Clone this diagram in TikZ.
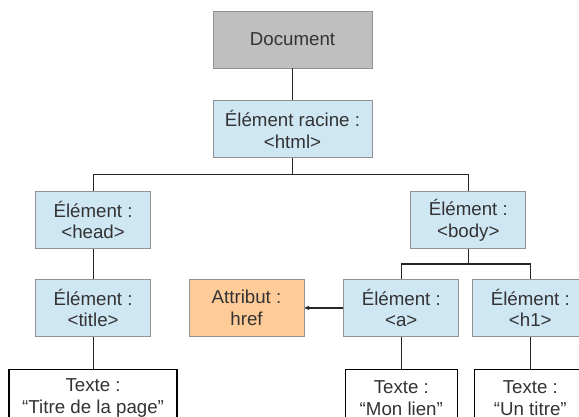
\documentclass[tikz,border=0pt]{standalone}
\usepackage{fontspec}
\setmainfont{Liberation Sans}
\usetikzlibrary{arrows.meta, positioning}

\definecolor{elemblue}{RGB}{207,230,243}
\definecolor{attrorange}{RGB}{255,204,153}
\definecolor{docgray}{RGB}{191,191,191}
\definecolor{boxline}{RGB}{145,145,145}
\definecolor{inkgray}{RGB}{51,51,51}

\begin{document}
\begin{tikzpicture}[node distance=32pt,
        box/.style={rectangle, draw=boxline, line width=0.8pt, minimum height=57pt, inner sep=0pt, align=center, text=inkgray, font=\fontsize{18.7}{21.5}\selectfont},
        doc/.style={box, fill=docgray, minimum width=159pt},
        elem/.style={box, fill=elemblue, minimum width=115pt},
        attr/.style={box, fill=attrorange, minimum width=115pt},
        texte/.style={box, draw=black, line width=1.3pt, fill=white},
        edge/.style={line width=1.2pt, draw=black!85},
        arrow/.style={-{Stealth[length=5pt, width=4.5pt]}, line width=1.2pt, draw=black!85}]

    \useasboundingbox (0,0) rectangle (579pt,-416pt);

    % Document root
    \node[doc] (document) at (292.5pt,-39.5pt) {Document};
    \node[doc, fill=elemblue, below=of document] (html) {Élément racine :\\<html>};

    % Head branch
    \node[elem, below left=33pt and 61.6pt of html] (head) {Élément :\\<head>};
    \node[elem, below=30pt of head] (title) {Élément :\\<title>};
    \node[texte, minimum width=168pt, below=of title] (titletext) {Texte :\\“Titre de la page”};

    % Body branch
    \node[elem, below right=33pt and 38pt of html] (body) {Élément :\\<body>};
    \node[elem, below=30pt of body, xshift=-67pt] (a) {Élément :\\<a>};
    \node[elem, below=30pt of body, xshift=62pt] (h1) {Élément :\\<h1>};
    \node[attr, left=39pt of a] (href) {Attribut :\\href};
    \node[texte, minimum width=112pt, below=of a] (atext) {Texte :\\“Mon lien”};
    \node[texte, minimum width=112pt, below=of h1] (h1text) {Texte :\\“Un titre”};

    % Tree connections
    \draw[edge] (document) -- (html);
    \draw[edge] (html.south) -- ++(0,-16pt) -| (head.north);
    \draw[edge] (html.south) -- ++(0,-16pt) -| (body.north);
    \draw[edge] (head) -- (title);
    \draw[edge] (title) -- (titletext);
    \draw[edge] (body.south) -- ++(0,-15pt) -| (a.north);
    \draw[edge] (body.south) -- ++(0,-15pt) -| (h1.north);
    \draw[edge] (a) -- (atext);
    \draw[edge] (h1) -- (h1text);

    % Attribute link
    \draw[arrow] (a) -- (href);

\end{tikzpicture}
\end{document}
